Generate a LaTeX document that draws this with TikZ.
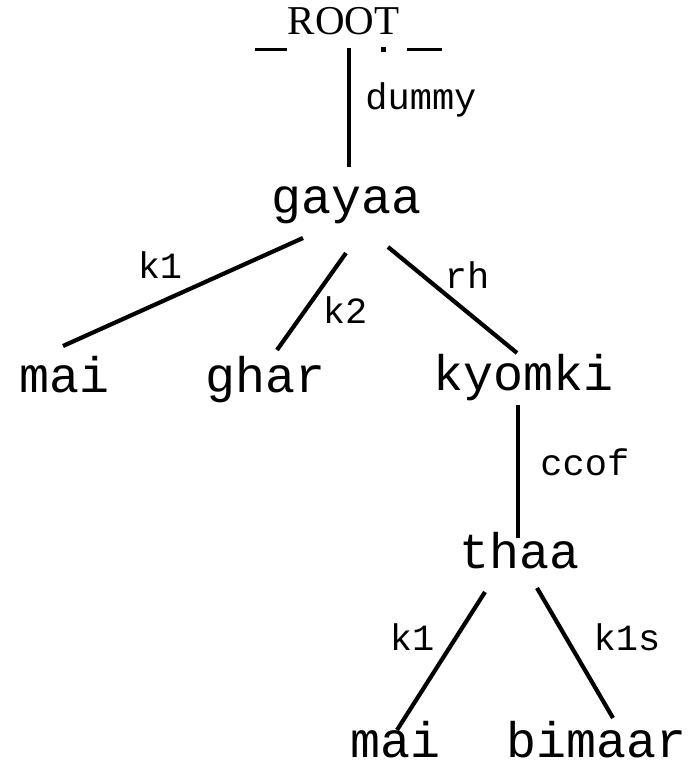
\documentclass[tikz,border=0pt]{standalone}
\usepackage{fontspec}
\setmainfont{Liberation Serif}
\setmonofont{Liberation Mono}
\usetikzlibrary{calc}

\tikzset{
  word/.style={anchor=base, inner sep=0pt, font=\ttfamily\fontsize{25}{25}\selectfont},
  rel/.style={anchor=base, inner sep=0pt, font=\ttfamily\fontsize{18.5}{18.5}\selectfont},
  link/.style={line width=2.1pt},
}

\begin{document}
\begin{tikzpicture}[x=0.5pt,y=-0.5pt]
      \useasboundingbox (0,0) rectangle (698,765);

      % Root
      \node[anchor=base, inner sep=0pt, font=\fontsize{20.5}{20.5}\selectfont] (root) at (343.5,35) {ROOT};
      \draw[line width=1.5pt] (255,50) -- (287,50);
      \draw[line width=1.5pt] (407,50) -- (442,50);
      \fill (380.5,47.5) rectangle (385.5,52.5);

      % Words
      \node[word] (gayaa) at (347,213) {gayaa};
      \node[word] (mai1) at (65,392) {mai};
      \node[word] (ghar) at (266,392) {ghar};
      \node[word] (kyomki) at (524,390) {kyomki};
      \node[word] (thaa) at (519.5,568) {thaa};
      \node[word] (mai2) at (396,757) {mai};
      \node[word] (bimaar) at (597,757) {bimaar};

      % Links
      \draw[link] ($(root.base)+(5.5,13)$) -- ($(gayaa.base)+(2,-46)$);
      \draw[link] ($(gayaa.base)+(-44,25)$) -- ($(mai1.base)+(-2,-46)$);
      \draw[link] ($(gayaa.base)+(-1,40)$) -- ($(ghar.base)+(11,-42)$);
      \draw[link] ($(gayaa.base)+(41,34)$) -- ($(kyomki.base)+(-7,-37)$);
      \draw[link] ($(kyomki.base)+(-6,15)$) -- ($(thaa.base)+(-1.5,-30)$);
      \draw[link] ($(thaa.base)+(-34.5,24)$) -- ($(mai2.base)+(1,-27)$);
      \draw[link] ($(thaa.base)+(17.5,20)$) -- ($(bimaar.base)+(16,-39)$);

      % Relations
      \node[rel, anchor=base west] (dummy) at (365,110) {dummy};
      \node[rel] (k1a) at (160,278) {k1};
      \node[rel] (k2) at (345,323) {k2};
      \node[rel] (rh) at (467,288) {rh};
      \node[rel, anchor=base west] (ccof) at (540,475) {ccof};
      \node[rel] (k1b) at (412,650) {k1};
      \node[rel] (k1s) at (627,650) {k1s};
\end{tikzpicture}
\end{document}
